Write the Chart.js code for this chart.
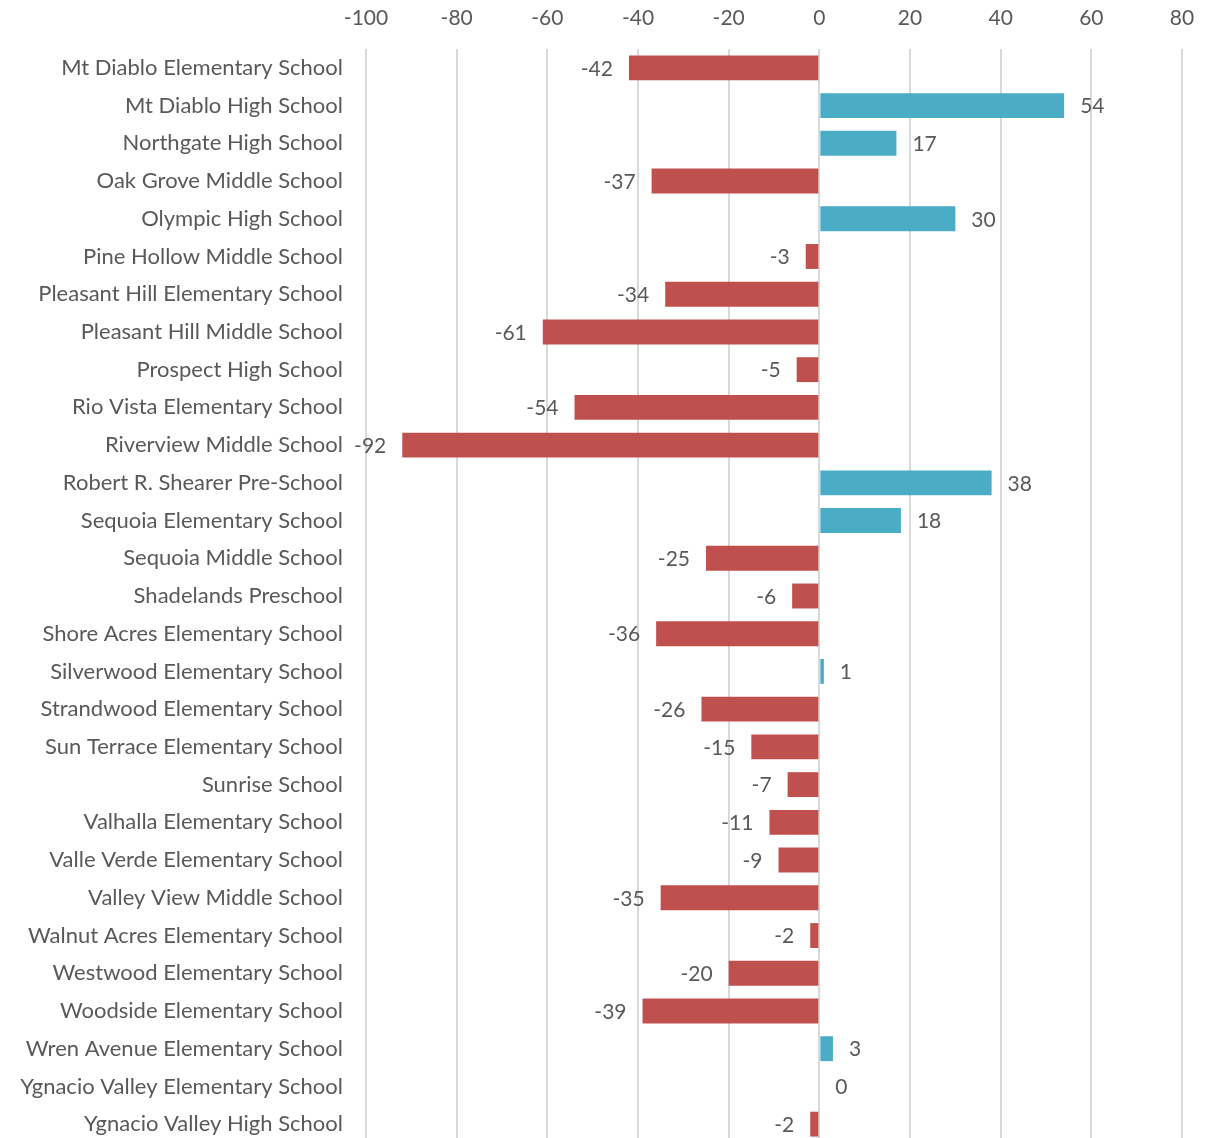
<!DOCTYPE html>
<html>
<head>
<meta charset="utf-8">
<script src="https://cdn.jsdelivr.net/npm/chart.js@4"></script>
<style>
  html, body { margin: 0; padding: 0; background: #ffffff; overflow: hidden; }
  canvas { display: block; }
</style>
</head>
<body>
<canvas id="c" width="1221" height="1144" style="width:1221px;height:1144px"></canvas>
<script>
const categories = [
  "Mt Diablo Elementary School",
  "Mt Diablo High School",
  "Northgate High School",
  "Oak Grove Middle School",
  "Olympic High School",
  "Pine Hollow Middle School",
  "Pleasant Hill Elementary School",
  "Pleasant Hill Middle School",
  "Prospect High School",
  "Rio Vista Elementary School",
  "Riverview Middle School",
  "Robert R. Shearer Pre-School",
  "Sequoia Elementary School",
  "Sequoia Middle School",
  "Shadelands Preschool",
  "Shore Acres Elementary School",
  "Silverwood Elementary School",
  "Strandwood Elementary School",
  "Sun Terrace Elementary School",
  "Sunrise School",
  "Valhalla Elementary School",
  "Valle Verde Elementary School",
  "Valley View Middle School",
  "Walnut Acres Elementary School",
  "Westwood Elementary School",
  "Woodside Elementary School",
  "Wren Avenue Elementary School",
  "Ygnacio Valley Elementary School",
  "Ygnacio Valley High School"
];
const values = [-42, 54, 17, -37, 30, -3, -34, -61, -5, -54, -92, 38, 18, -25, -6, -36, 1, -26, -15, -7, -11, -9, -35, -2, -20, -39, 3, 0, -2];
const axisMin = -100;
const axisMax = 80;
const axisStep = 20;

const POS_COLOR = "#4BACC6";
const NEG_COLOR = "#C0504D";
const TEXT_COLOR = "#595959";
const FONT = "Lato, 'Open Sans', sans-serif";

const labelPlugin = {
  id: "barLabels",
  afterDatasetsDraw(chart) {
    const ctx = chart.ctx;
    const meta = chart.getDatasetMeta(0);
    ctx.save();
    ctx.font = "21px " + FONT;
    ctx.fillStyle = TEXT_COLOR;
    ctx.textBaseline = "middle";
    meta.data.forEach((bar, i) => {
      const v = values[i];
      if (v >= 0) {
        ctx.textAlign = "left";
        ctx.fillText(String(v), bar.x + 16, bar.y + 1);
      } else {
        ctx.textAlign = "right";
        ctx.fillText(String(v), bar.x - 16, bar.y + 1);
      }
    });
    ctx.restore();
  }
};

new Chart(document.getElementById("c"), {
  type: "bar",
  data: {
    labels: categories,
    datasets: [{
      data: values,
      backgroundColor: values.map(v => v >= 0 ? POS_COLOR : NEG_COLOR),
      borderWidth: 0,
      barPercentage: 0.66,
      categoryPercentage: 1.0
    }]
  },
  options: {
    indexAxis: "y",
    responsive: false,
    maintainAspectRatio: false,
    animation: false,
    devicePixelRatio: 1,
    layout: { padding: { left: 0, right: 39, top: 0, bottom: 1 } },
    plugins: {
      legend: { display: false },
      tooltip: { enabled: false }
    },
    scales: {
      x: {
        position: "top",
        min: axisMin,
        max: axisMax,
        ticks: {
          stepSize: axisStep,
          color: TEXT_COLOR,
          font: { family: FONT, size: 21 },
          padding: 18
        },
        grid: { color: "#d9d9d9", lineWidth: 2, drawTicks: false },
        border: { display: false },
        afterFit(scale) { scale.height = 49; scale.paddingLeft = 0; scale.paddingRight = 0; }
      },
      y: {
        ticks: {
          color: TEXT_COLOR,
          font: { family: FONT, size: 22 },
          padding: 23,
          autoSkip: false
        },
        grid: { display: false, drawTicks: false },
        border: { display: false },
        afterFit(scale) { scale.width = 366; scale.paddingTop = 0; scale.paddingBottom = 0; }
      }
    }
  },
  plugins: [labelPlugin]
});
</script>
</body>
</html>
